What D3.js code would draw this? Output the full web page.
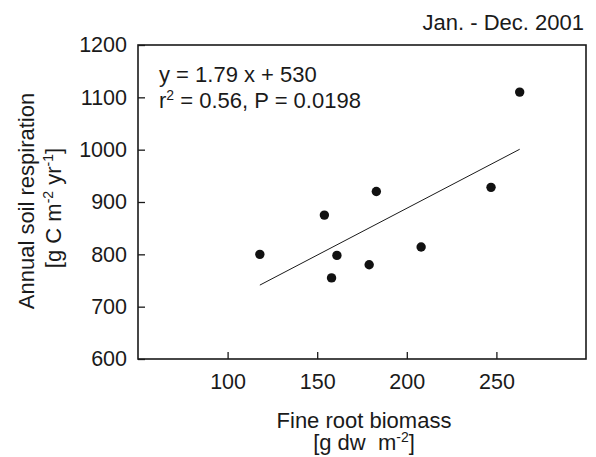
<!DOCTYPE html>
<html><head><meta charset="utf-8">
<script src="https://cdn.jsdelivr.net/npm/d3@7"></script>
<style>body{margin:0;background:#fff}svg{display:block}text{font-family:"Liberation Sans",Arial,sans-serif;fill:#1a1a1a;white-space:pre}</style>
</head><body><svg id="c" width="596" height="457"></svg>
<script>
const biomass = [118, 154, 158, 161, 179, 183, 208, 247, 263];
const respiration = [800, 875, 755, 798, 780, 920, 814, 928, 1110];
const xTicks = [100, 150, 200, 250];
const yTicks = [600, 700, 800, 900, 1000, 1100, 1200];
const fitSlope = 1.79, fitIntercept = 530;
const fitRange = [118, 263];

const svg = d3.select("#c");
const L = 138, R = 586, T = 45, B = 359;
const x = d3.scaleLinear().domain([50, 300]).range([L, R]);
const y = d3.scaleLinear().domain([600, 1200]).range([B, T]);
const fs = 22, tfs = 21.5, sup = 14;
const FF = '"Liberation Sans",Arial,sans-serif';

// frame
svg.append("rect").attr("x", L).attr("y", T).attr("width", R - L).attr("height", B - T)
  .attr("fill", "none").attr("stroke", "#1a1a1a").attr("stroke-width", 1.6);

const xa = svg.append("g").attr("transform", `translate(0,${B})`)
  .call(d3.axisBottom(x).tickValues(xTicks).tickFormat(d3.format("d")).tickSizeInner(-7).tickSizeOuter(0).tickPadding(15));
const ya = svg.append("g").attr("transform", `translate(${L},0)`)
  .call(d3.axisLeft(y).tickValues(yTicks).tickFormat(d3.format("d")).tickSizeInner(-7).tickSizeOuter(0).tickPadding(11));
[xa, ya].forEach(g => {
  g.select(".domain").remove();
  g.selectAll(".tick line").attr("stroke", "#1a1a1a").attr("stroke-width", 1.3);
  g.selectAll("text").attr("font-size", tfs).attr("font-family", FF).attr("fill", "#1a1a1a");
});

// regression line
svg.append("line")
  .attr("x1", x(fitRange[0])).attr("y1", y(fitSlope * fitRange[0] + fitIntercept))
  .attr("x2", x(fitRange[1])).attr("y2", y(fitSlope * fitRange[1] + fitIntercept))
  .attr("stroke", "#1a1a1a").attr("stroke-width", 1);

// points
svg.selectAll("circle.p").data(biomass).enter().append("circle")
  .attr("cx", d => x(d)).attr("cy", (d, i) => y(respiration[i])).attr("r", 4.7).attr("fill", "#111");

// equation text
svg.append("text").attr("x", 159).attr("y", 82).attr("font-size", fs).text("y = 1.79 x + 530");
const r2 = svg.append("text").attr("x", 159).attr("y", 108).attr("font-size", fs);
r2.append("tspan").text("r");
r2.append("tspan").attr("dy", -8).attr("font-size", sup).text("2");
r2.append("tspan").attr("dy", 8).text(" = 0.56, P = 0.0198");

// title
svg.append("text").attr("x", 584).attr("y", 30).attr("text-anchor", "end").attr("font-size", fs).text("Jan. - Dec. 2001");

// x label
svg.append("text").attr("x", 364).attr("y", 428).attr("text-anchor", "middle").attr("font-size", fs).text("Fine root biomass");
const xl2 = svg.append("text").attr("x", 364).attr("y", 450).attr("text-anchor", "middle").attr("font-size", fs);
xl2.append("tspan").text("[g dw  m");
xl2.append("tspan").attr("dy", -8).attr("font-size", sup).text("-2");
xl2.append("tspan").attr("dy", 8).text("]");

// y label
const yl = svg.append("g").attr("transform", "rotate(-90)");
yl.append("text").attr("x", -201).attr("y", 34).attr("text-anchor", "middle").attr("font-size", fs).text("Annual soil respiration");
const yl2 = yl.append("text").attr("x", -208).attr("y", 60.5).attr("text-anchor", "middle").attr("font-size", fs);
yl2.append("tspan").text("[g C m");
yl2.append("tspan").attr("dy", -8).attr("font-size", sup).text("-2");
yl2.append("tspan").attr("dy", 8).text(" yr");
yl2.append("tspan").attr("dy", -8).attr("font-size", sup).text("-1");
yl2.append("tspan").attr("dy", 8).text("]");
</script></body></html>
